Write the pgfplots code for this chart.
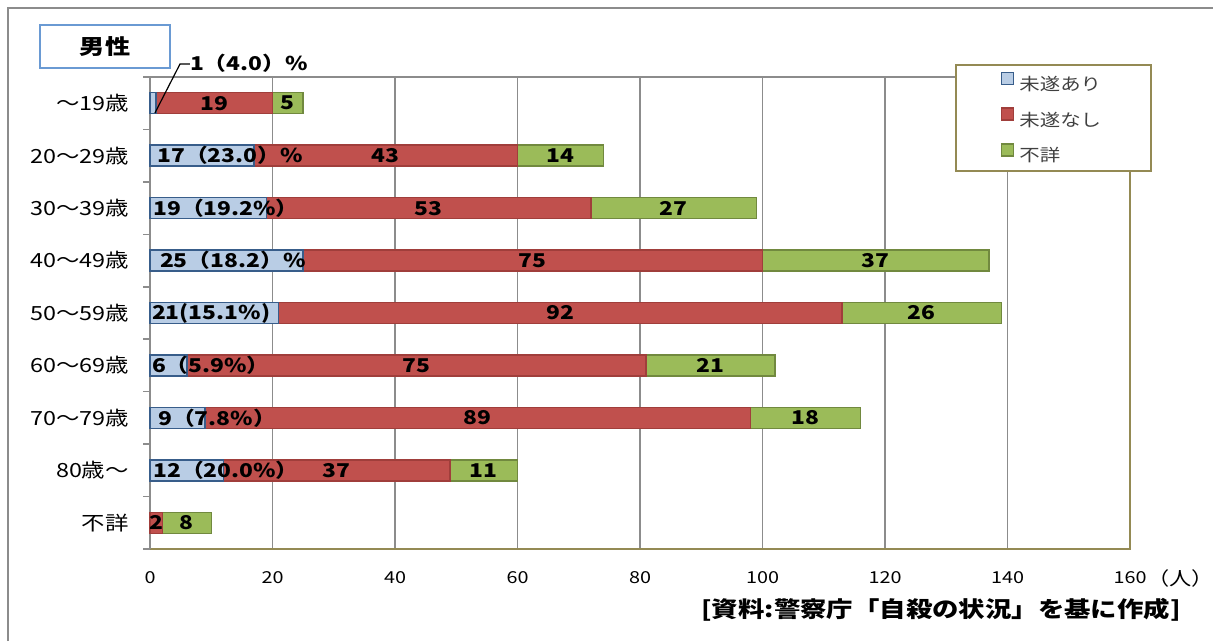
\documentclass[border=0pt]{standalone}
\usepackage{fontspec}
\setmainfont[FakeStretch=1.2]{Noto Sans CJK JP}
\usepackage{pgfplots}
\pgfplotsset{compat=1.18}
\definecolor{bfill}{HTML}{B9CDE5}
\definecolor{bdraw}{HTML}{385D8A}
\definecolor{rfill}{HTML}{C0504D}
\definecolor{rdraw}{HTML}{A03E3B}
\definecolor{gfill}{HTML}{9BBB59}
\definecolor{gdraw}{HTML}{71893F}
\definecolor{gridgray}{HTML}{8C8C8C}
\definecolor{olive}{HTML}{948A54}
\definecolor{titleblue}{HTML}{6A9AD3}
\definecolor{legtext}{HTML}{404040}
\newcommand{\fs}[1]{\fontsize{#1}{#1}\selectfont}
\tikzset{lab/.style={font=\bfseries\fs{19}, inner sep=0pt}}
\begin{document}
\begin{tikzpicture}
\useasboundingbox (0,0) rectangle (1213pt,641pt);
\draw[gridgray, line width=2pt] (8pt,0pt) -- (8pt,633pt) -- (1213pt,633pt);
\draw[titleblue, line width=1.5pt, fill=white] (40pt,616pt) rectangle (170pt,573pt);
\node[font=\bfseries\fs{21}] at (105pt,594.5pt) {男性};
\node[font=\bfseries\fs{22}, anchor=center] at (941pt,31pt) {[資料:警察庁「自殺の状況」を基に作成]};
\begin{axis}[
  at={(150pt,92pt)}, anchor=south west,
  scale only axis, width=980pt, height=472pt,
  xbar stacked, bar width=21pt,
  xmin=0, xmax=160, ymin=-0.5, ymax=8.5, y dir=reverse,
  xtick={0,20,40,60,80,100,120,140,160},
  xticklabels={0,20,40,60,80,100,120,140,160},
  ytick={0,1,2,3,4,5,6,7,8},
  yticklabels={～19歳,20～29歳,30～39歳,40～49歳,50～59歳,60～69歳,70～79歳,80歳～,不詳},
  minor ytick={-0.5,0.5,1.5,2.5,3.5,4.5,5.5,6.5,7.5,8.5},
  major tick length=0pt, minor tick length=7pt, tick align=outside,
  xtick pos=bottom, ytick pos=left,
  minor tick style={gridgray, line width=1.5pt},
  xmajorgrids, major grid style={gridgray, line width=1.8pt},
  axis line style={draw=none},
  clip=false,
  xticklabel style={font=\fs{16.5}, anchor=center, yshift=-29pt},
  yticklabel style={font=\fs{19.5}, anchor=east, inner sep=0pt, xshift=-21pt},
  legend style={at={(0.8214,1.0275)}, anchor=north west, draw=olive, line width=2pt,
    fill=white, font=\fs{17}, text=legtext, inner xsep=45pt, inner ysep=6.5pt,
    row sep=14pt, nodes={inner xsep=5pt, inner ysep=0pt, text height=14pt, text depth=3pt}},
  legend cell align=left,
]
\addplot[fill=bfill, draw=bdraw, line width=1.5pt,
  legend image code/.code={\draw[fill=bfill, draw=bdraw, line width=1.5pt] (0pt,0.5pt) rectangle (12pt,12.5pt);}]
  coordinates {(1,0) (17,1) (19,2) (25,3) (21,4) (6,5) (9,6) (12,7) (0,8)};
\addplot[fill=rfill, draw=rdraw, line width=1.5pt,
  legend image code/.code={\draw[fill=rfill, draw=rdraw, line width=1.5pt] (0pt,0.5pt) rectangle (12pt,12.5pt);}]
  coordinates {(19,0) (43,1) (53,2) (75,3) (92,4) (75,5) (89,6) (37,7) (2,8)};
\addplot[fill=gfill, draw=gdraw, line width=1.5pt,
  legend image code/.code={\draw[fill=gfill, draw=gdraw, line width=1.5pt] (0pt,0.5pt) rectangle (12pt,12.5pt);}]
  coordinates {(5,0) (14,1) (27,2) (37,3) (26,4) (21,5) (18,6) (11,7) (8,8)};
\legend{未遂あり,未遂なし,不詳}
\draw[gridgray, line width=1.5pt] (axis description cs:0,0) -- (axis description cs:0,1) -- (axis description cs:1,1);
\draw[olive, line width=2.5pt] (axis description cs:0,0) -- (axis description cs:1,0) -- (axis description cs:1,1);
\coordinate (r0) at (axis cs:10.5,0);  \coordinate (g0) at (axis cs:22.5,0);
\coordinate (r1) at (axis cs:38.5,1);  \coordinate (g1) at (axis cs:67,1);
\coordinate (r2) at (axis cs:45.5,2);  \coordinate (g2) at (axis cs:85.5,2);
\coordinate (r3) at (axis cs:62.5,3);  \coordinate (g3) at (axis cs:118.5,3);
\coordinate (r4) at (axis cs:67,4);    \coordinate (g4) at (axis cs:126,4);
\coordinate (r5) at (axis cs:43.5,5);  \coordinate (g5) at (axis cs:91.5,5);
\coordinate (r6) at (axis cs:53.5,6);  \coordinate (g6) at (axis cs:107,6);
\coordinate (r7) at (axis cs:30.5,7);  \coordinate (g7) at (axis cs:54.5,7);
\coordinate (r8) at (axis cs:1,8);     \coordinate (g8) at (axis cs:6,8);
\coordinate (b1) at (axis cs:1.15,1);
\coordinate (b2) at (axis cs:0.5,2);
\coordinate (b3) at (axis cs:1.6,3);
\coordinate (b4) at (axis cs:0.3,4);
\coordinate (b5) at (axis cs:0.3,5);
\coordinate (b6) at (axis cs:1.3,6);
\coordinate (b7) at (axis cs:0.5,7);
\coordinate (b0) at (axis cs:6.5,-0.767);
\coordinate (L1) at (axis cs:0.8,0.187);
\coordinate (L2) at (axis cs:4.9,-0.748);
\coordinate (L3) at (axis cs:6.5,-0.748);
\node[font=\fs{18.5}, anchor=west, inner sep=0pt] at (axis cs:162.8,9.07) {（人）};
\end{axis}
\node[lab] at (r0) {19};  \node[lab] at (g0) {5};
\node[lab] at (r1) {43};  \node[lab] at (g1) {14};
\node[lab] at (r2) {53};  \node[lab] at (g2) {27};
\node[lab] at (r3) {75};  \node[lab] at (g3) {37};
\node[lab] at (r4) {92};  \node[lab] at (g4) {26};
\node[lab] at (r5) {75};  \node[lab] at (g5) {21};
\node[lab] at (r6) {89};  \node[lab] at (g6) {18};
\node[lab] at (r7) {37};  \node[lab] at (g7) {11};
\node[lab] at (r8) {2};   \node[lab] at (g8) {8};
\node[lab, anchor=west] at (b1) {17（23.0）\%};
\node[lab, anchor=west] at (b2) {19（19.2\%）};
\node[lab, anchor=west] at (b3) {25（18.2）\%};
\node[lab, anchor=west] at (b4) {21(15.1\%)};
\node[lab, anchor=west] at (b5) {6（5.9\%）};
\node[lab, anchor=west] at (b6) {9（7.8\%）};
\node[lab, anchor=west] at (b7) {12（20.0\%）};
\node[lab, anchor=west] at (b0) {1（4.0）\%};
\draw[black, line width=1.2pt] (L1) -- (L2) -- (L3);
\end{tikzpicture}
\end{document}
